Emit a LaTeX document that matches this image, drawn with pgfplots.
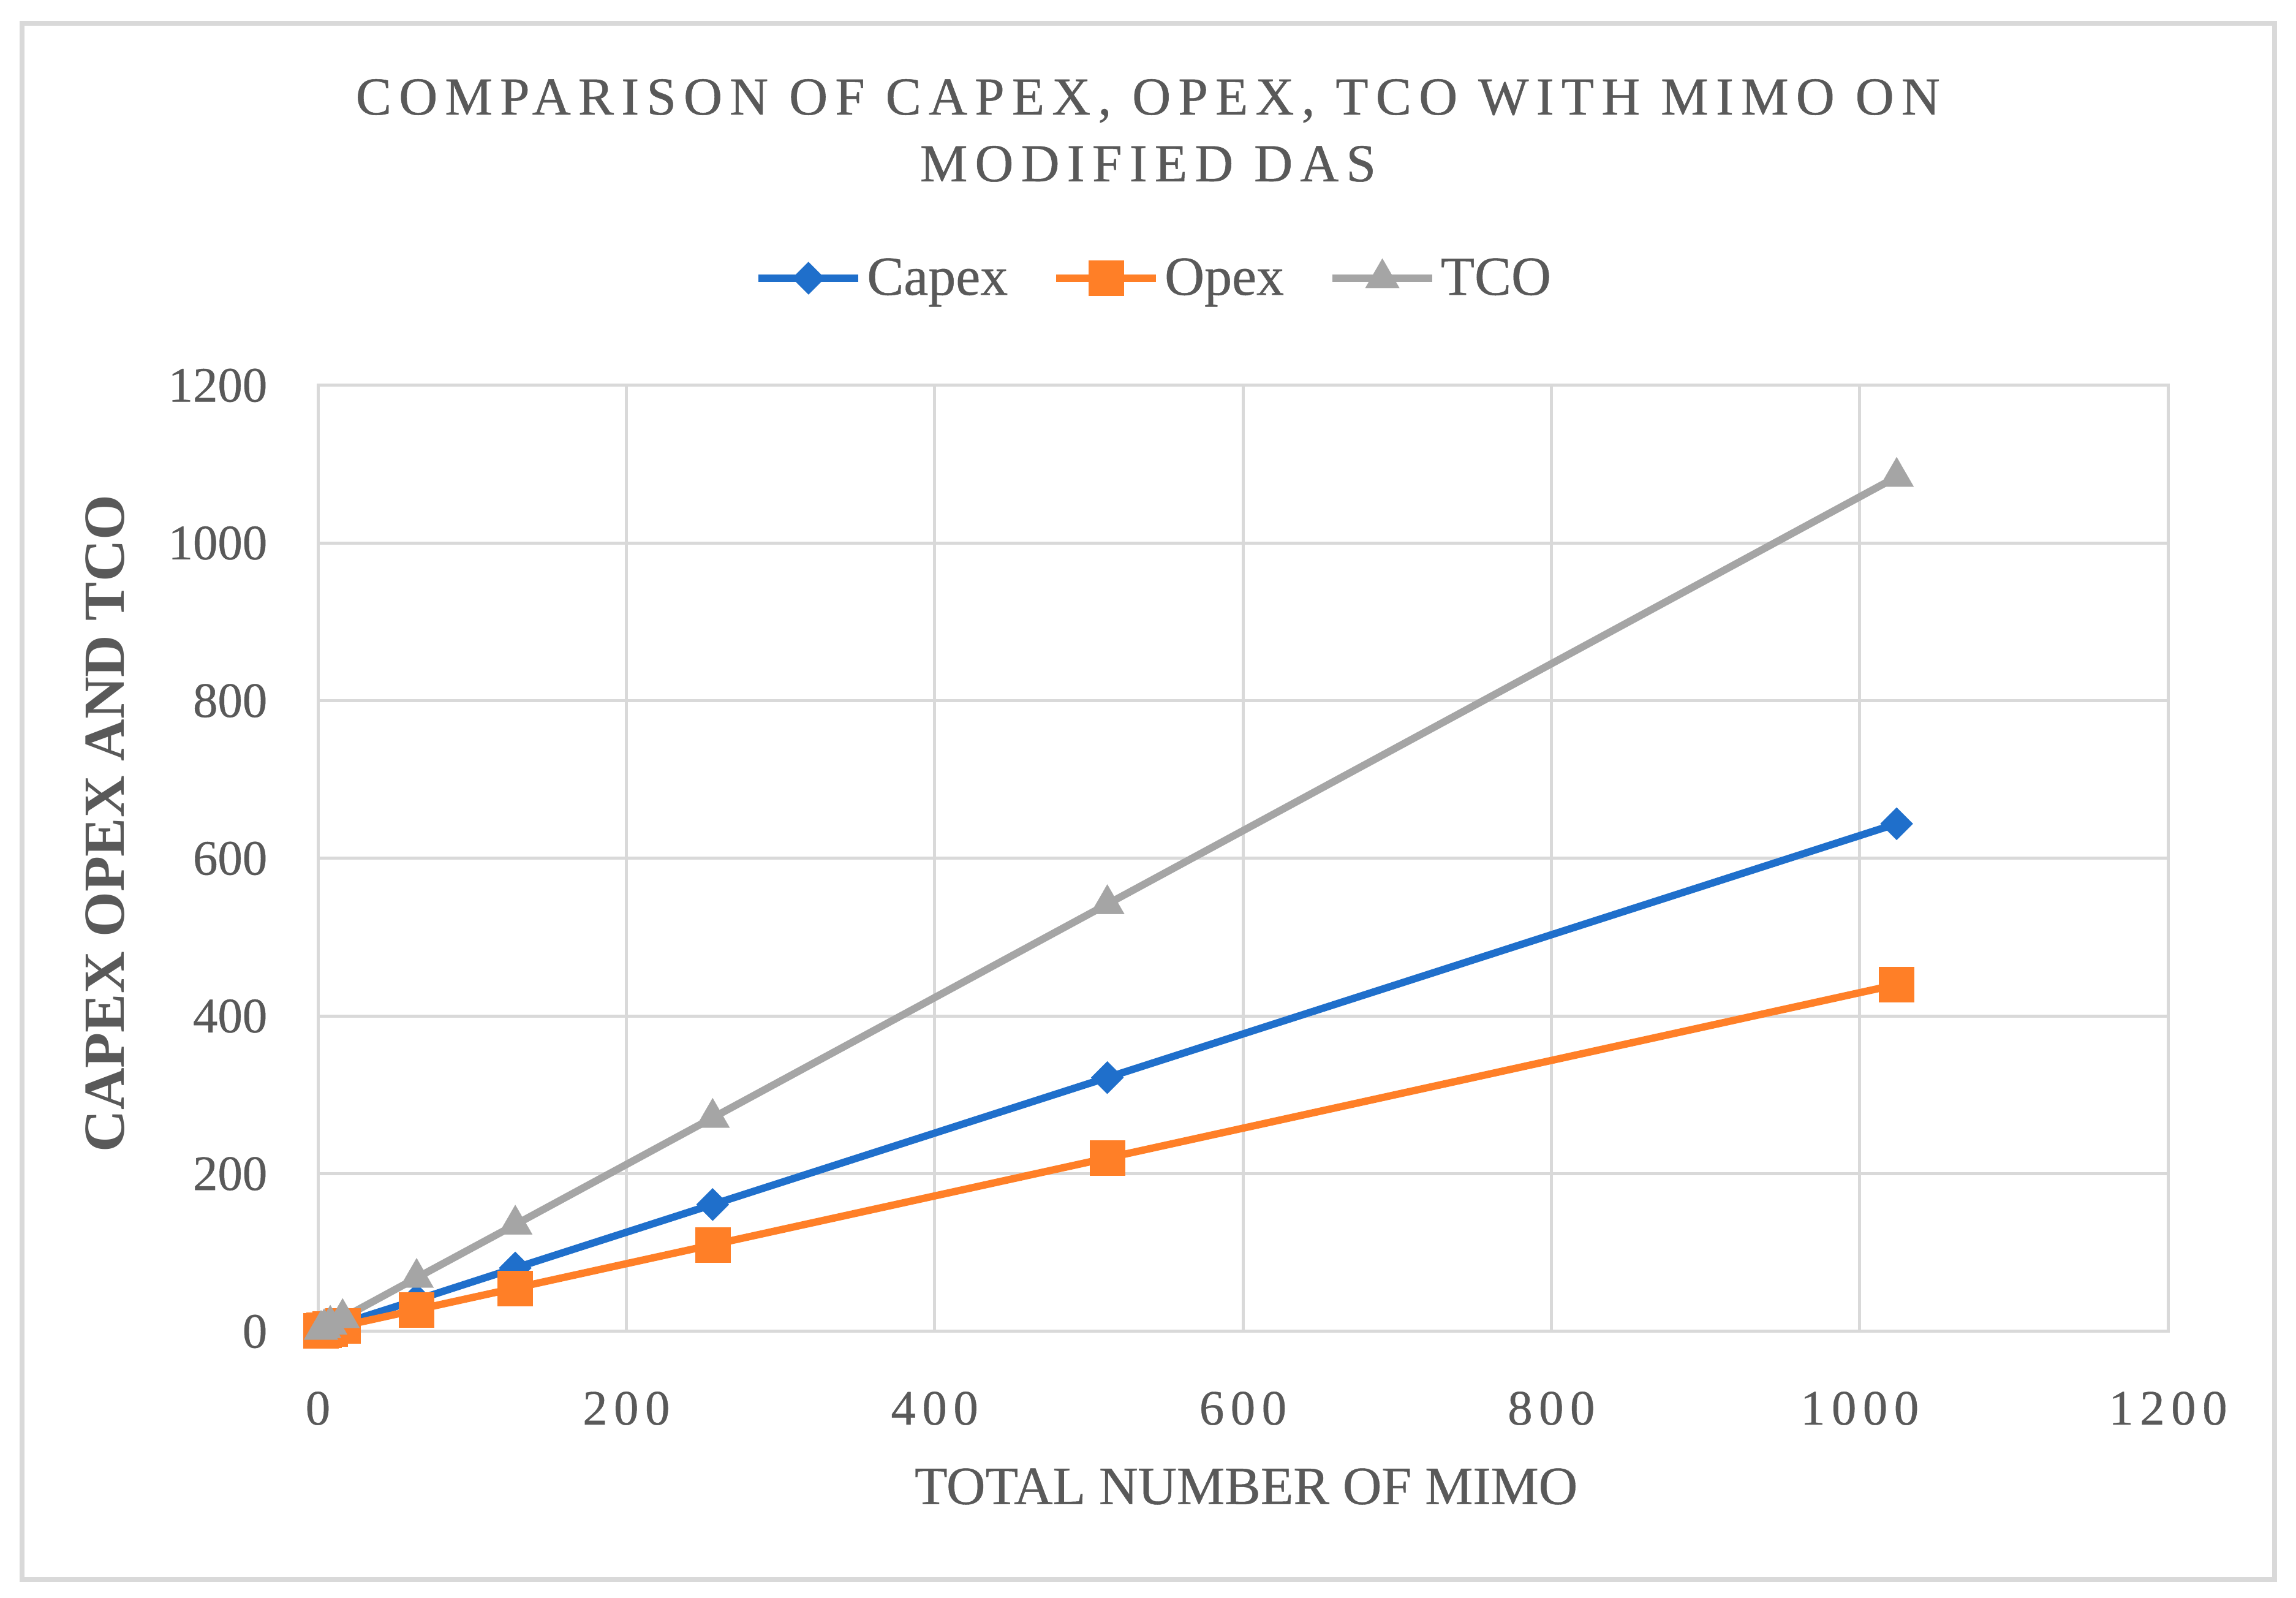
\documentclass[border=0pt]{standalone}
\usepackage{fontspec}
\setmainfont{Liberation Serif}
\newfontfamily\spaced[LetterSpace=13, FakeBold=0.5]{Liberation Serif}
\newfontfamily\tspaced[LetterSpace=14, FakeBold=0.6]{Liberation Serif}
\newfontfamily\heavy[FakeBold=0.5]{Liberation Serif}
\usepackage{pgfplots}
\pgfplotsset{compat=1.18}
\definecolor{txt}{HTML}{595959}
\definecolor{gridc}{HTML}{D9D9D9}
\definecolor{cblue}{HTML}{1F6FCB}
\definecolor{corange}{HTML}{FF7F27}
\definecolor{cgray}{HTML}{A5A5A5}
\begin{document}
\begin{tikzpicture}[x=1mm,y=1mm]
\path[fill=white] (0,0) rectangle (374.8,260.8);
\draw[gridc, line width=0.8mm] (3.6,3.0) rectangle (371.3,257.0);
\node[text=txt, align=center, font=\tspaced\fontsize{24.8}{31}\selectfont] at (187.4,239.5)
  {COMPARISON OF CAPEX, OPEX, TCO WITH MIMO ON\\MODIFIED DAS};
\begin{axis}[
  at={(51.9mm,43.5mm)}, anchor=south west,
  scale only axis, width=302mm, height=154.4mm,
  xmin=0, xmax=1200, ymin=0, ymax=1200,
  xtick={0,200,...,1200}, ytick={0,200,...,1200},
  grid=major, major grid style={gridc, line width=0.5mm},
  axis line style={gridc, line width=0.5mm},
  tick style={draw=none},
  clip=false,
  /pgf/number format/assume math mode=true,
  /pgf/number format/1000 sep={},
  xticklabel style={font=\spaced\fontsize{23}{23}\selectfont, text=txt, anchor=base, inner sep=0pt, yshift=-15.2mm},
  yticklabel style={font=\heavy\fontsize{23}{23}\selectfont, text=txt, anchor=east, inner sep=0pt, xshift=-8.2mm},
  xlabel={TOTAL NUMBER OF MIMO},
  ylabel={\textbf{CAPEX OPEX AND TCO}},
  xlabel style={at={(axis description cs:0.5017,-0.1639)}, anchor=center, font=\heavy\fontsize{25}{25}\selectfont, text=txt, inner sep=0pt},
  ylabel style={at={(axis description cs:-0.1149,0.537)}, anchor=center, font=\fontsize{27}{27}\selectfont, text=txt, inner sep=0pt},
  legend style={at={(axis description cs:0.4527,1.1133)}, anchor=center, draw=none, fill=none,
    legend columns=-1, font=\heavy\fontsize{25.6}{25.6}\selectfont, text=txt,
    /tikz/every even column/.append style={column sep=6.5mm},
    nodes={inner sep=0.8mm}},
  legend cell align=left,
  legend image code/.code={\draw[mark repeat=2,mark phase=2,#1] plot coordinates {(0mm,0mm) (8.15mm,0mm) (16.3mm,0mm)};},
]
\addplot[cblue, line width=1.2mm, mark=square*, mark size=1.87mm, mark options={rotate=45, solid, line width=0.1pt, fill=cblue}]
  coordinates {(2,1.3) (4,2.5) (8,5) (16,10) (64,40) (128,80.5) (256,161) (512,322) (1024,644)};
\addlegendentry{Capex}
\addplot[corange, line width=1.2mm, mark=square*, mark size=2.85mm, mark options={solid, line width=0.1pt, fill=corange}]
  coordinates {(2,0.9) (4,1.7) (8,3.4) (16,6.9) (64,27.5) (128,55) (256,110) (512,220) (1024,440)};
\addlegendentry{Opex}
\addplot[cgray, line width=1.2mm, mark=triangle*, mark size=3.2mm, mark options={solid, line width=0.1pt, fill=cgray}]
  coordinates {(2,2.1) (4,4.2) (8,8.5) (16,17) (64,68) (128,135.5) (256,271) (512,542) (1024,1084)};
\addlegendentry{TCO}
\end{axis}
\end{tikzpicture}
\end{document}
